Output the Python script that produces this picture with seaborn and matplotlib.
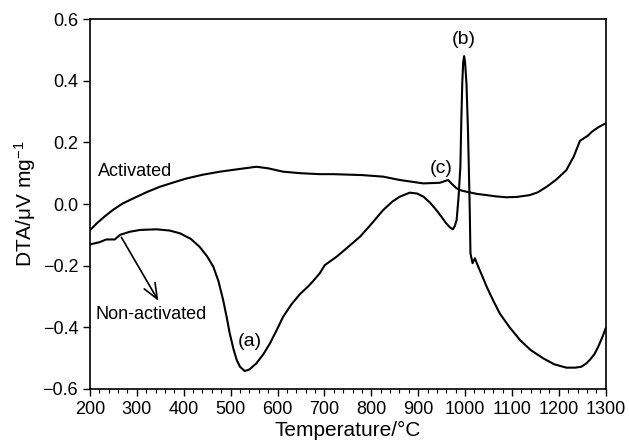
import numpy as np
import pandas as pd
import seaborn as sns
import matplotlib.pyplot as plt
from matplotlib.ticker import MultipleLocator

# DTA curves (temperature in °C, DTA in µV/mg)
act_T = [200, 215, 230, 250, 270, 292, 320, 349, 380, 406, 440, 477, 520, 555, 580, 612,
         650, 690, 719, 780, 825, 861, 911, 946, 964, 972, 982, 992, 1003, 1025, 1046,
         1065, 1088, 1110, 1138, 1155, 1174, 1195, 1216, 1232, 1245, 1255, 1262, 1270,
         1285, 1300]
act_dta = [-0.085, -0.062, -0.042, -0.018, 0.002, 0.018, 0.038, 0.056, 0.071, 0.083, 0.095,
           0.105, 0.114, 0.121, 0.116, 0.105, 0.100, 0.097, 0.097, 0.094, 0.089, 0.078,
           0.067, 0.069, 0.078, 0.065, 0.051, 0.044, 0.040, 0.033, 0.029, 0.025, 0.022,
           0.023, 0.029, 0.038, 0.056, 0.080, 0.110, 0.155, 0.205, 0.215, 0.222, 0.234,
           0.250, 0.262]

non_T = [200, 220, 235, 253, 258, 264, 285, 307, 342, 370, 392, 415, 434, 450, 463, 474,
         484, 492, 498, 506, 513, 520, 530, 540, 555, 570, 584, 598, 612, 630, 648, 665,
         676, 690, 701, 726, 750, 776, 800, 825, 845, 861, 882, 898, 911, 925, 939, 950,
         960, 968, 974, 978, 982, 986, 990, 992, 994, 996, 998, 1000, 1003, 1006, 1008,
         1010, 1011.5, 1016, 1021, 1028, 1037, 1046, 1060, 1074, 1095, 1117, 1140, 1167,
         1190, 1216, 1235, 1248, 1258, 1266, 1276, 1284, 1292, 1300]
non_dta = [-0.131, -0.124, -0.115, -0.115, -0.108, -0.100, -0.090, -0.084, -0.082, -0.086,
           -0.095, -0.113, -0.139, -0.170, -0.203, -0.250, -0.311, -0.370, -0.419, -0.470,
           -0.506, -0.528, -0.542, -0.537, -0.517, -0.487, -0.452, -0.410, -0.366, -0.325,
           -0.292, -0.268, -0.250, -0.225, -0.198, -0.171, -0.140, -0.106, -0.065, -0.020,
           0.008, 0.024, 0.037, 0.034, 0.024, 0.005, -0.020, -0.042, -0.063, -0.076,
           -0.082, -0.072, -0.052, 0.020, 0.121, 0.270, 0.391, 0.460, 0.480, 0.460, 0.391,
           0.250, 0.121, -0.020, -0.160, -0.192, -0.176, -0.203, -0.235, -0.268, -0.313,
           -0.355, -0.400, -0.441, -0.474, -0.501, -0.520, -0.531, -0.531, -0.528, -0.518,
           -0.506, -0.487, -0.463, -0.435, -0.403]

df = pd.concat([
    pd.DataFrame({'T': act_T, 'DTA': act_dta, 'sample': 'Activated'}),
    pd.DataFrame({'T': non_T, 'DTA': non_dta, 'sample': 'Non-activated'}),
])

sns.set_style('ticks', {'axes.edgecolor': 'black', 'text.color': 'black',
                        'xtick.color': 'black', 'ytick.color': 'black',
                        'axes.labelcolor': 'black'})
plt.rcParams['font.family'] = ['Liberation Sans', 'DejaVu Sans']
plt.rcParams['mathtext.fontset'] = 'custom'
plt.rcParams['mathtext.rm'] = 'Liberation Sans'
plt.rcParams['mathtext.it'] = 'Liberation Sans'

fig, ax = plt.subplots(figsize=(6.29, 4.46), dpi=100)
sns.lineplot(data=df, x='T', y='DTA', units='sample', estimator=None, sort=False,
             color='black', linewidth=1.5, ax=ax, legend=False)
for ln in ax.lines:
    ln.set_solid_joinstyle('round')

ax.set_xlim(200, 1300)
ax.set_ylim(-0.6, 0.6)
ax.xaxis.set_major_locator(MultipleLocator(100))
ax.xaxis.set_minor_locator(MultipleLocator(20))
ax.yaxis.set_major_locator(MultipleLocator(0.2))
ax.yaxis.set_major_formatter(plt.FuncFormatter(lambda v, p: f'{v:.1f}'.replace('-', '\u2212')))
ax.tick_params(axis='both', which='major', direction='out', length=5, width=1, labelsize=13)
ax.tick_params(axis='x', which='minor', direction='out', length=3, width=0.8)
for s in ax.spines.values():
    s.set_linewidth(1.2)

ax.set_xlabel('Temperature/\u00b0C', fontsize=15, labelpad=2)
ax.set_ylabel('DTA/\u03bcV mg$^{\u22121}$', fontsize=15, labelpad=3)

ax.text(217, 0.105, 'Activated', fontsize=13, va='center', ha='left')
ax.text(211, -0.36, 'Non-activated', fontsize=13, va='center', ha='left')
ax.text(541, -0.447, '(a)', fontsize=14, va='center', ha='center')
ax.text(998, 0.535, '(b)', fontsize=14, va='center', ha='center')
ax.text(950, 0.116, '(c)', fontsize=14, va='center', ha='center')
ax.annotate('', xy=(349, -0.322), xytext=(264, -0.100),
            arrowprops=dict(arrowstyle='->,head_length=1.1,head_width=0.45',
                            color='black', lw=1.2))

plt.subplots_adjust(left=0.143, right=0.963, top=0.957, bottom=0.128)
plt.savefig('out.png', dpi=100)
